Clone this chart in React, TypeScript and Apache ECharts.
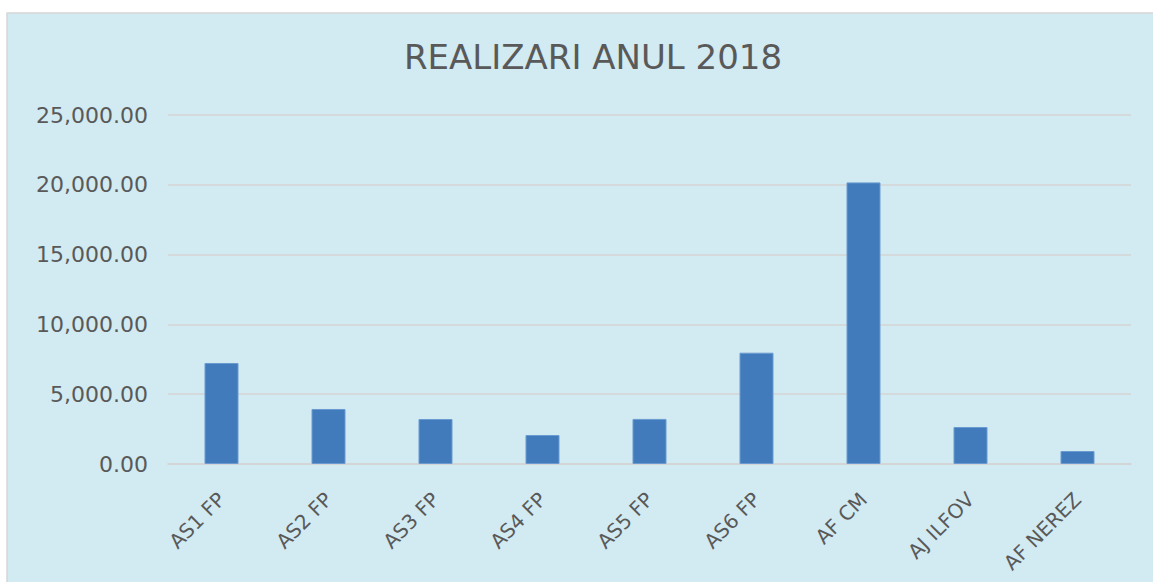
import React, { useEffect, useRef } from "react";
import * as echarts from "echarts";

const categories = ["AS1 FP", "AS2 FP", "AS3 FP", "AS4 FP", "AS5 FP", "AS6 FP", "AF CM", "AJ ILFOV", "AF NEREZ"];
const values = [7235, 3940, 3223, 2077, 3230, 7973, 20172, 2650, 931];
const titleText = "REALIZARI ANUL 2018";
const yMin = 0;
const yMax = 25000;
const yInterval = 5000;

export default function App() {
  const ref = useRef<HTMLDivElement>(null);
  useEffect(() => {
    if (!ref.current) return;
    const chart = echarts.init(ref.current, undefined, { renderer: "svg" });
    const font = "DejaVu Sans";
    chart.setOption({
      animation: false,
      backgroundColor: "#ffffff",
      graphic: [
        {
          type: "rect",
          z: -100,
          shape: { x: 7, y: 13, width: 1150, height: 575 },
          style: { fill: "#d2eaf1", stroke: "#d6d6d6", lineWidth: 1.5 },
        },
      ],
      title: {
        text: titleText,
        left: 588,
        top: 35,
        textAlign: "center",
        textStyle: { fontFamily: font, fontSize: 34, fontWeight: "normal", color: "#595959" },
      },
      grid: { left: 168, right: 22, top: 115, bottom: 118 },
      xAxis: {
        type: "category",
        data: categories,
        axisLine: { show: true, lineStyle: { color: "#d4d4d4", width: 1.5 } },
        axisTick: { show: false },
        axisLabel: {
          interval: 0,
          rotate: 45,
          margin: 32,
          fontFamily: font,
          fontSize: 20,
          color: "#595959",
        },
      },
      yAxis: {
        type: "value",
        min: yMin,
        max: yMax,
        interval: yInterval,
        axisLine: { show: false },
        axisTick: { show: false },
        splitLine: { lineStyle: { color: "#d4d4d4", width: 1.5 } },
        axisLabel: {
          margin: 20,
          fontFamily: font,
          fontSize: 22,
          color: "#595959",
          formatter: (v: number) =>
            v.toLocaleString("en-US", { minimumFractionDigits: 2, maximumFractionDigits: 2 }),
        },
      },
      series: [
        {
          type: "bar",
          data: values,
          barWidth: 34,
          itemStyle: { color: "#427bbb", borderColor: "#6a9bd0", borderWidth: 1 },
        },
      ],
    });
    return () => chart.dispose();
  }, []);
  return (
    <div
      ref={ref}
      style={{ position: "absolute", left: 0, top: 0, width: 1153, height: 582 }}
    />
  );
}
